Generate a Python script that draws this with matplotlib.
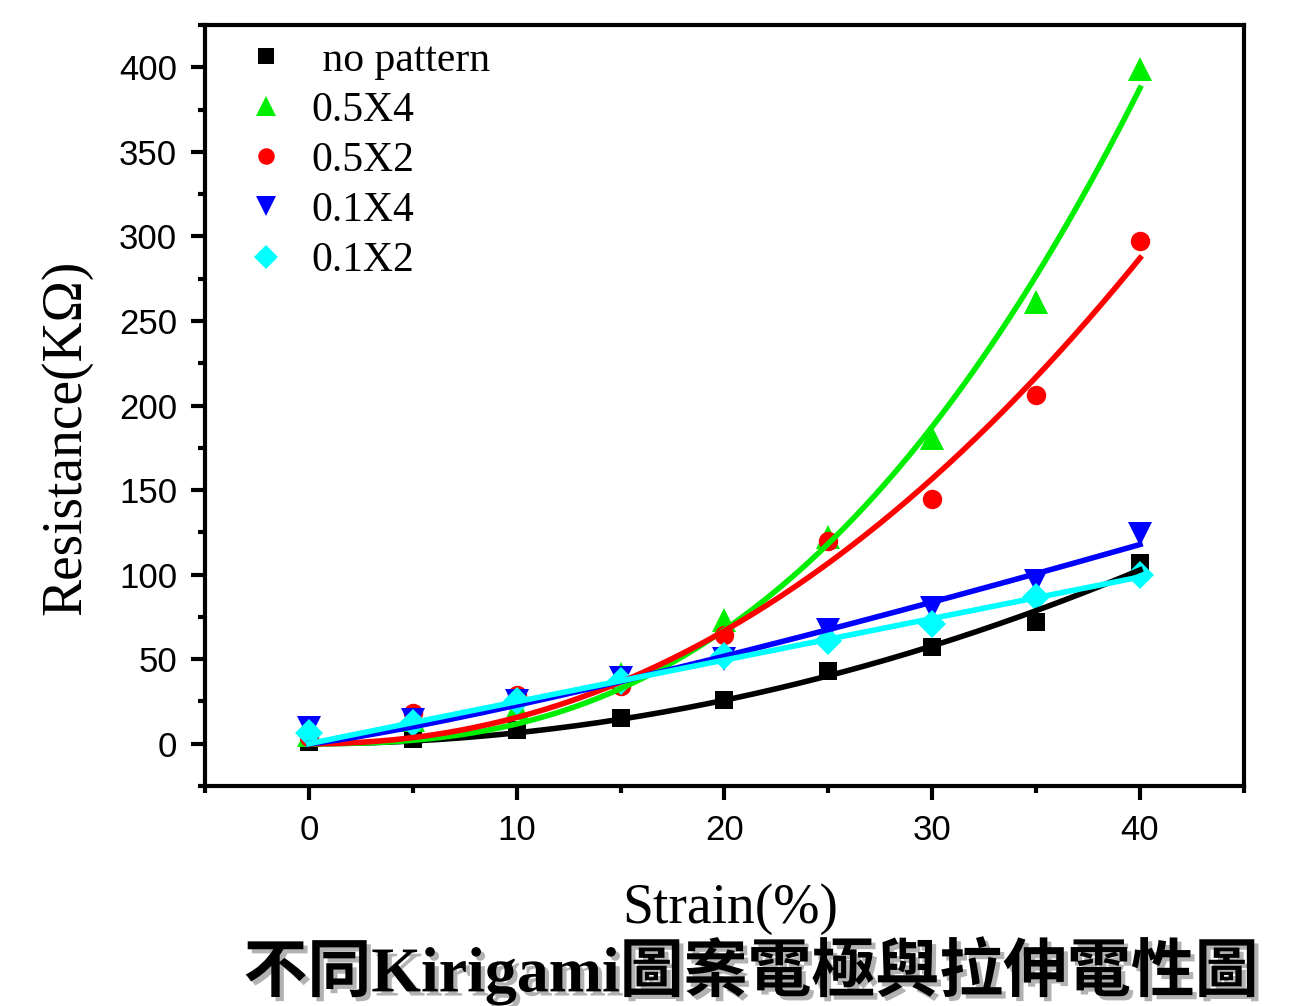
import numpy as np
import matplotlib
matplotlib.use("Agg")
import matplotlib.pyplot as plt
from matplotlib.ticker import MultipleLocator
import matplotlib.patheffects as pe

strain = [0, 5, 10, 15, 20, 25, 30, 35, 40]
no_pattern = [1, 3, 8, 15, 26, 43, 57, 72, 107]
p05x4 = [5, 14, 21, 41, 73, 122, 181, 261, 399]
p05x2 = [4, 18, 29, 34, 64, 120, 145, 206, 297]
p01x4 = [9, 14, 25, 39, 50, 67, 80, 96, 124]
p01x2 = [6.5, 12.5, 25, 37, 52, 61, 71, 86.5, 100]

labels = [" no pattern", "0.5X4", "0.5X2", "0.1X4", "0.1X2"]
series = [no_pattern, p05x4, p05x2, p01x4, p01x2]
colors = ["#000000", "#00ee00", "#ff0000", "#0000ff", "#00ffff"]
markers = ["s", "^", "o", "v", "D"]
msizes = [13, 17, 14, 17, 14]


def power_fit(x, y):
    # least squares y = a * x**b (allometric fit)
    best = None
    for b in np.linspace(0.5, 4.0, 3501):
        xb = x ** b
        a = np.dot(xb, y) / np.dot(xb, xb)
        r = np.sum((y - a * xb) ** 2)
        if best is None or r < best[0]:
            best = (r, a, b)
    return best[1], best[2]


fig = plt.figure(figsize=(12.9, 10.06), dpi=100)
ax = fig.add_axes([0.1589, 0.2187, 0.9643 - 0.1589, 0.9751 - 0.2187])

x = np.array(strain, dtype=float)
xf = np.linspace(0, 40, 300)
handles = []
for y, c, m, ms, lab in zip(series, colors, markers, msizes, labels):
    y = np.array(y, dtype=float)
    a, b = power_fit(x, y)
    yf = a * xf ** b
    h, = ax.plot(x, y, linestyle="none", marker=m, color=c, markersize=ms,
                 markeredgewidth=0, label=lab, zorder=3)
    ax.plot(xf, yf, color=c, linewidth=4, zorder=4)
    handles.append(h)

ax.set_xlim(-5, 45)
ax.set_ylim(-25, 425)
ax.xaxis.set_major_locator(MultipleLocator(10))
ax.xaxis.set_minor_locator(MultipleLocator(5))
ax.yaxis.set_major_locator(MultipleLocator(50))
ax.yaxis.set_minor_locator(MultipleLocator(25))

for s in ax.spines.values():
    s.set_linewidth(3)
ax.tick_params(which="major", direction="out", length=10, width=3, labelsize=25, pad=10)
ax.tick_params(which="minor", direction="out", length=5, width=3)
for t in ax.get_xticklabels() + ax.get_yticklabels():
    t.set_fontfamily("Liberation Sans")

ax.set_xlabel("Strain(%)", fontfamily="Liberation Serif", fontsize=40)
ax.xaxis.set_label_coords(0.506, -0.1275)
ax.set_ylabel("Resistance(KΩ)", fontfamily="Liberation Serif", fontsize=40)
ax.yaxis.set_label_coords(-0.108, 0.4586)

leg = ax.legend(handles=handles, loc="upper left", frameon=False,
                prop={"family": "Liberation Serif", "size": 30},
                bbox_to_anchor=(0.0286, 0.979), borderaxespad=0, borderpad=0,
                handletextpad=0.35, labelspacing=0.28,
                handlelength=1.5, markerscale=0.85)

fig.text(0.582, 0.035, "不同Kirigami圖案電極與拉伸電性圖",
         family=["Liberation Serif", "Noto Sans CJK TC"], fontweight="bold",
         fontsize=46, ha="center", va="center",
         path_effects=[pe.SimplePatchShadow(offset=(3, -3), shadow_rgbFace="gray", alpha=0.6),
                       pe.Normal()])

fig.savefig("out.png", dpi=100)
